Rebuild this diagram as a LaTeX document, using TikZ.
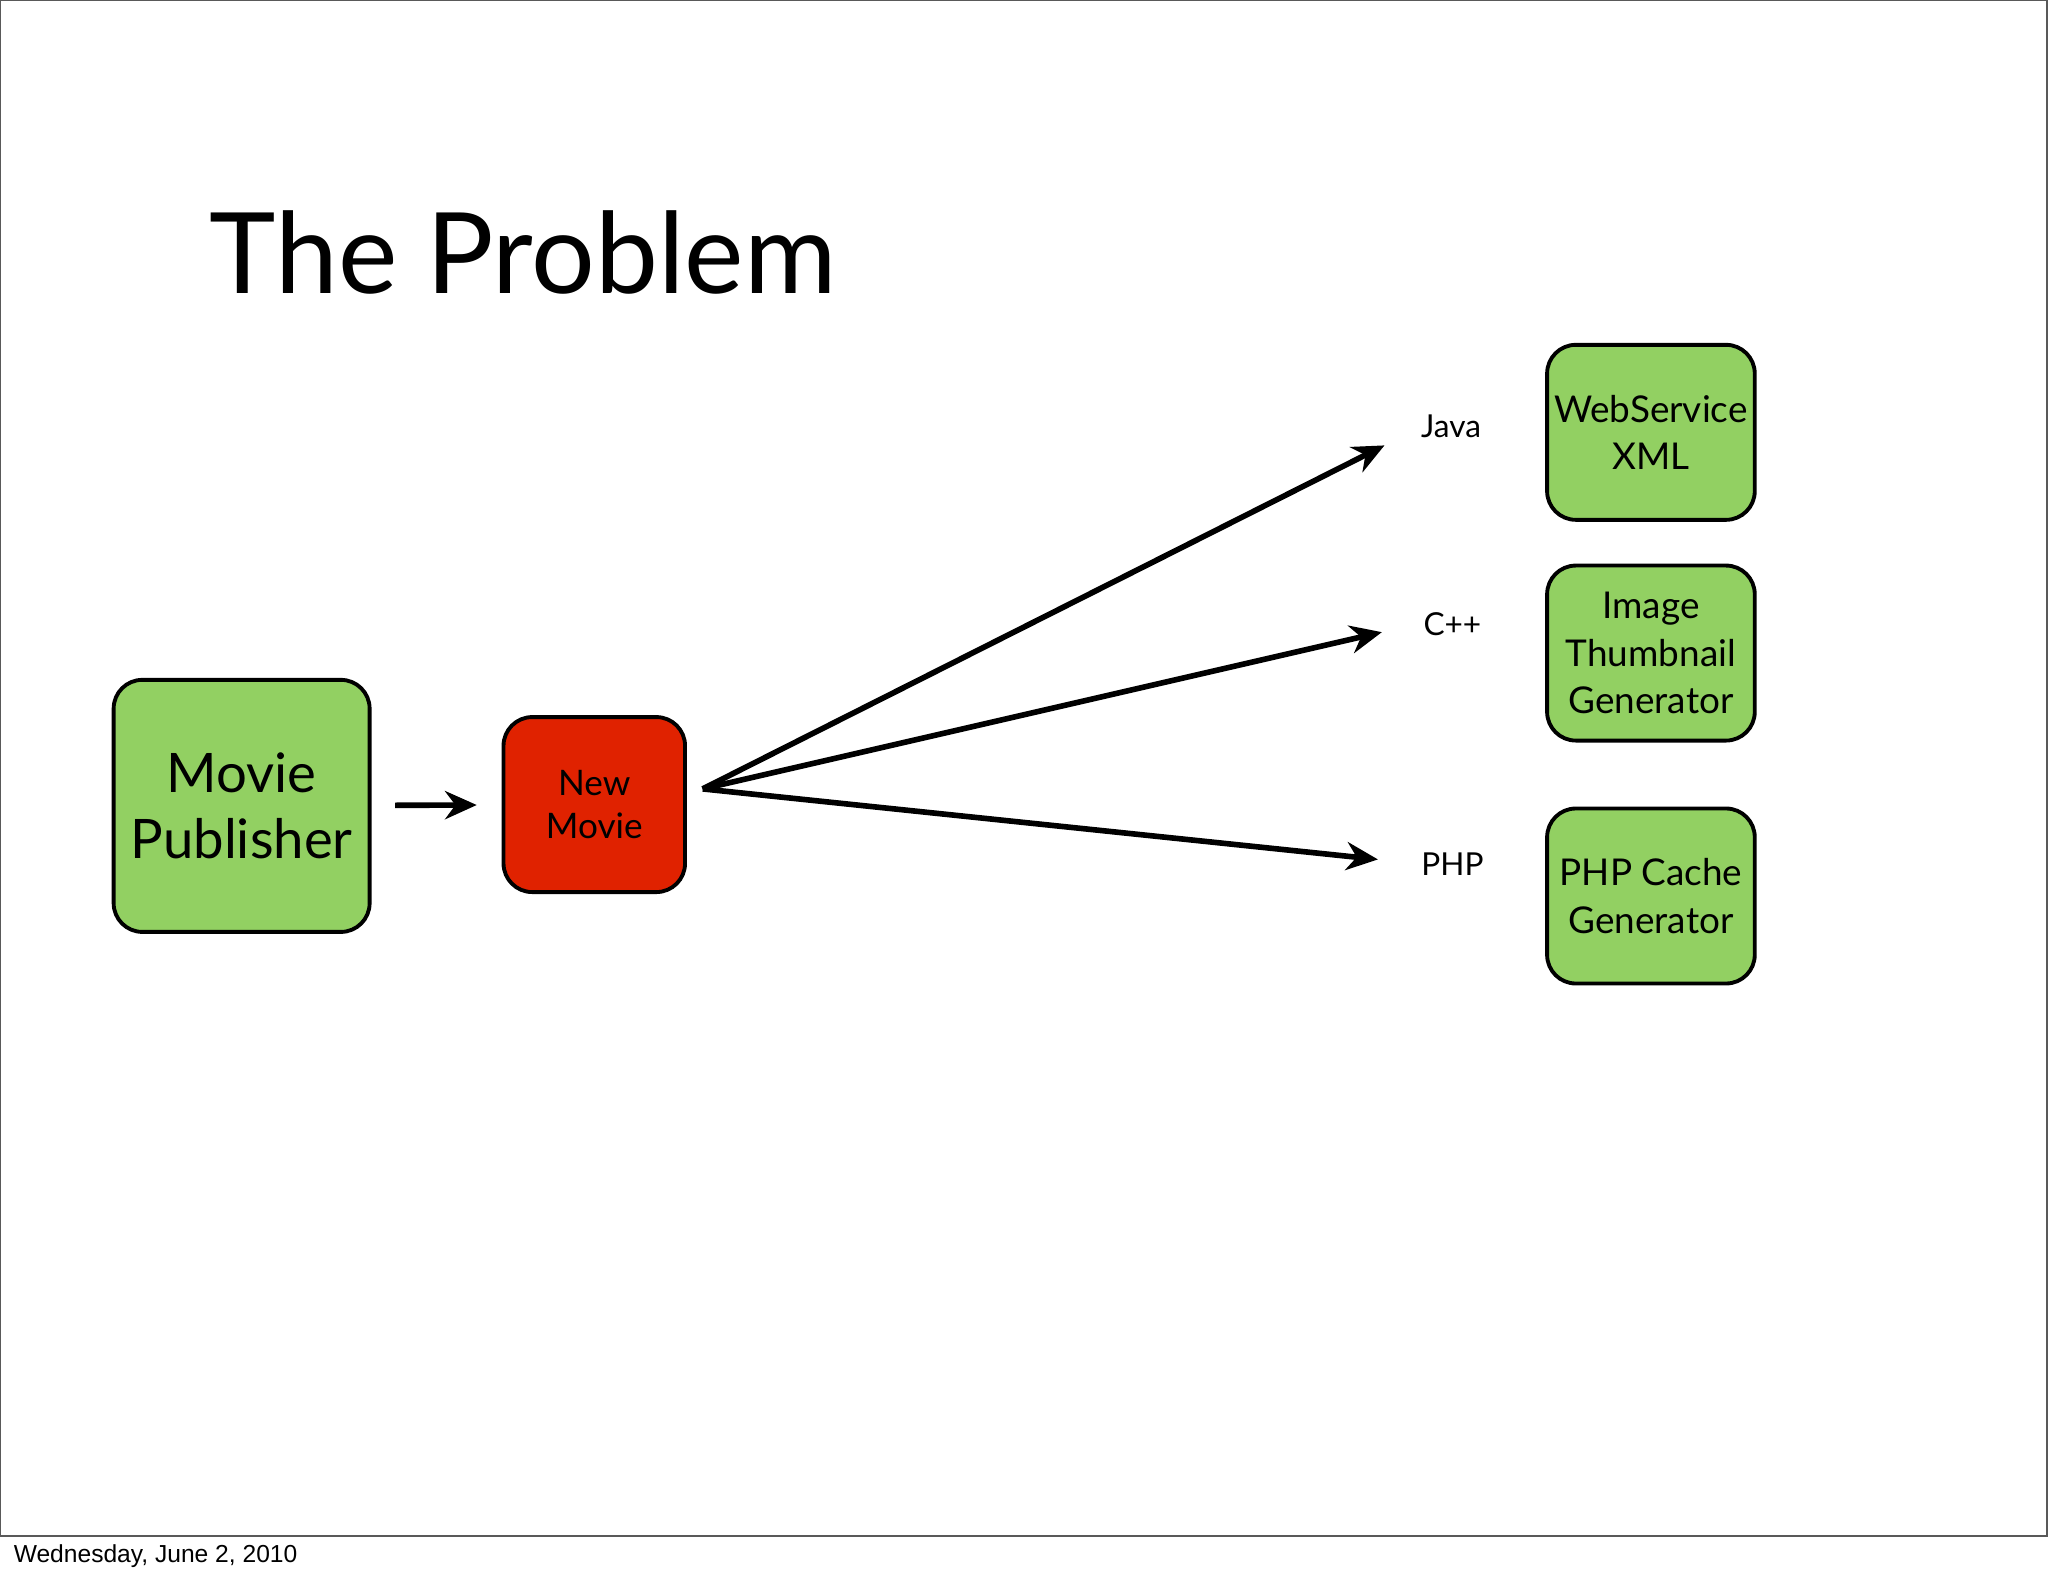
\documentclass[tikz,border=0pt]{standalone}
\usepackage{fontspec}
\setmainfont{Lato}
\newfontfamily\footfont{Liberation Sans}
\usetikzlibrary{positioning,arrows.meta}
\newlength\px
\setlength\px{0.01306cm}
\definecolor{boxgreen}{HTML}{92D062}
\definecolor{boxred}{HTML}{E02200}
\begin{document}
\begin{tikzpicture}[
    x=\px, y=-\px,
    box/.style={rectangle, draw, line width=1.1pt, rounded corners=22\px, fill=boxgreen, align=center, inner sep=0pt},
    side/.style={box, minimum width=159\px, minimum height=134\px, font=\fontsize{10.5}{13.5}\selectfont},
    lang/.style={font=\fontsize{9}{11}\selectfont},
    arrow/.style={-{Stealth[length=9pt,width=8pt]}, line width=1.6pt}
]
    \useasboundingbox (0,0) rectangle (1568,1207);
    \draw[line width=0.6pt, gray!70!black] (0,0) rectangle (1567,1176);
    \node[anchor=base west, inner sep=0pt, font=\footfont\fontsize{7}{9}\selectfont] (date) at (10,1196) {Wednesday, June 2, 2010};
    \node[anchor=base west, inner sep=0pt, font=\fontsize{32}{38}\selectfont] (title) at (160,225) {The Problem};

    \node[box, minimum width=196\px, minimum height=193\px, font=\fontsize{15.5}{19}\selectfont] (publisher) at (185,617) {Movie\\Publisher};
    \node[box, fill=boxred, minimum width=139\px, minimum height=134\px, font=\fontsize{10}{12}\selectfont] (newmovie) at (455,616) {New\\Movie};

    \node[side] (webservice) at (1264,331) {WebService\\XML};
    \node[side] (thumbnail) at (1264,500) {Image\\Thumbnail\\Generator};
    \node[side] (phpcache) at (1264,686) {PHP Cache\\Generator};

    \node[lang] (java) at (1111,326) {Java};
    \node[lang] (cpp) at (1112,478) {C++};
    \node[lang] (php) at (1112,662) {PHP};

    \coordinate (fan) at (538,604);
    \coordinate (tojava) at (1060,341);
    \coordinate (tocpp) at (1058,484);
    \coordinate (tophp) at (1055,658);

    \draw[arrow, shorten <=18\px, shorten >=19\px] (publisher) -- (newmovie);
    \draw[arrow] (fan) -- (tojava);
    \draw[arrow] (fan) -- (tocpp);
    \draw[arrow] (fan) -- (tophp);
\end{tikzpicture}
\end{document}
